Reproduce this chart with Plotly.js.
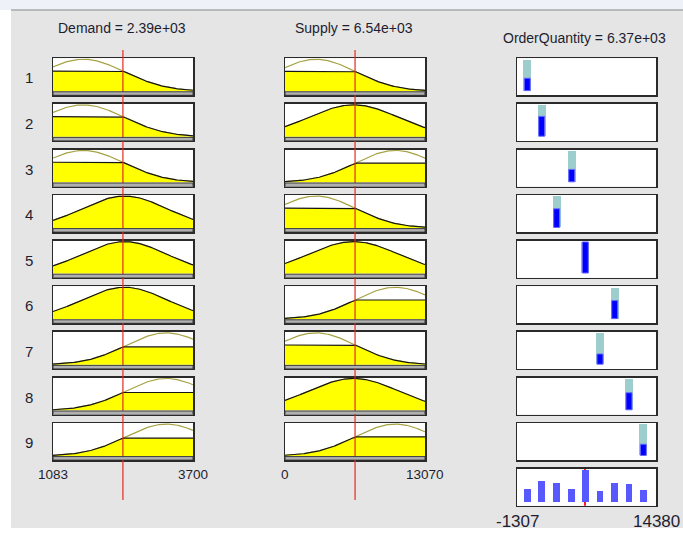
<!DOCTYPE html>
<html><head><meta charset="utf-8">
<script src="https://cdn.plot.ly/plotly-3.0.1.min.js"></script>
<style>html,body{margin:0;padding:0;background:#fff}#chart{width:683px;height:534px}</style>
</head><body><div id="chart"></div>
<script>
// ---------------- data ----------------
const inputNames = ['Demand', 'Supply'];
const inputRanges = [[1083, 3700], [0, 13070]];
const inputValues = [2390, 6540];
const demandCenters = [1650, 2420, 3200];
const demandSigmas = [770, 790, 752];
const supplyCenters = [2900, 6400, 10300];
const supplySigmas = [3723, 4200, 3719];
const ruleLabels = ['1', '2', '3', '4', '5', '6', '7', '8', '9'];
const ruleDemandMf = [0, 0, 0, 1, 1, 1, 2, 2, 2];
const ruleSupplyMf = [0, 1, 2, 0, 1, 2, 0, 1, 2];
const outputName = 'OrderQuantity';
const outputRange = [-1307, 14380];
const outputValue = 6370;
const ruleOutputs = [-150, 1480, 4870, 3170, 6400, 9720, 8060, 11330, 12950];
const ruleStrengths = [0.40, 0.64, 0.40, 0.60, 1.0, 0.58, 0.33, 0.55, 0.36];

// ---------------- layout helpers ----------------
const W = 683, H = 534;
const colX = [[53, 193], [285, 425], [517, 656]];
const rowTop0 = 58.3, rowPitch = 45.6, panelH = 37;
const mfCenters = [demandCenters, supplyCenters];
const mfSigmas = [demandSigmas, supplySigmas];
const ruleMf = [ruleDemandMf, ruleSupplyMf];
const regular = '"Liberation Sans", Arial, sans-serif';
const txtColor = '#1e1e30';

function sfx(k) { return k === 1 ? '' : String(k); }
function gauss(x, c, s) { return Math.exp(-((x - c) ** 2) / (2 * s * s)); }
function fmt(v) { return v.toExponential(2).replace(/e([+-])(\d)$/, 'e$10$2'); }

const layout = {
  width: W, height: H, margin: {l: 0, r: 0, t: 0, b: 0},
  paper_bgcolor: '#ffffff', plot_bgcolor: 'rgba(0,0,0,0)',
  showlegend: false, barmode: 'overlay', bargap: 0,
  shapes: [], annotations: []
};
const traces = [];

// page background
layout.shapes.push({type: 'rect', xref: 'paper', yref: 'paper', x0: 11 / W, x1: 1, y0: 1 - 528 / H, y1: 1 - 10 / H,
  fillcolor: '#e5e5e5', line: {width: 0}, layer: 'below'});
layout.shapes.push({type: 'rect', xref: 'paper', yref: 'paper', x0: 0, x1: 1, y0: 1 - 10 / H, y1: 1,
  fillcolor: '#eef1f8', line: {width: 0}, layer: 'below'});
layout.shapes.push({type: 'line', xref: 'paper', yref: 'paper', x0: 11 / W, x1: 1, y0: 1 - 10 / H, y1: 1 - 10 / H,
  line: {color: '#a8a8a8', width: 1.5}, layer: 'below'});

function addAxes(k, xd, yd, xr, yr, frame) {
  const common = {showgrid: false, zeroline: false, showticklabels: false, ticks: '', fixedrange: true,
    showline: frame, mirror: frame, linecolor: '#2a2a2a', linewidth: 1.5};
  layout['xaxis' + sfx(k)] = Object.assign({domain: xd, range: xr, anchor: 'y' + sfx(k)}, common);
  layout['yaxis' + sfx(k)] = Object.assign({domain: yd, range: yr, anchor: 'x' + sfx(k)}, common);
  if (frame) {
    layout.shapes.push({type: 'rect', xref: 'x' + sfx(k) + ' domain', yref: 'y' + sfx(k) + ' domain',
      x0: 0, x1: 1, y0: 0, y1: 1, fillcolor: '#ffffff', line: {width: 0}, layer: 'below'});
  }
}

const N = 161;
for (let r = 0; r < 9; r++) {
  const top = rowTop0 + r * rowPitch, bot = top + panelH;
  const yd = [1 - bot / H, 1 - top / H];
  // input panels
  for (let c = 0; c < 2; c++) {
    const k = r * 3 + c + 1;
    const [lo, hi] = inputRanges[c];
    addAxes(k, [colX[c][0] / W, colX[c][1] / W], yd, [lo, hi], [-0.13, 1.03], true);
    const m = ruleMf[c][r];
    const cc = mfCenters[c][m], ss = mfSigmas[c][m];
    const mu = gauss(inputValues[c], cc, ss);
    const xs = [], mf = [], clip = [];
    for (let i = 0; i < N; i++) {
      const x = lo + (hi - lo) * i / (N - 1);
      const v = gauss(x, cc, ss);
      xs.push(x); mf.push(v); clip.push(Math.min(v, mu));
    }
    layout.shapes.push({type: 'rect', xref: 'x' + sfx(k) + ' domain', yref: 'y' + sfx(k),
      x0: 0, x1: 1, y0: -0.13, y1: -0.02, fillcolor: '#b0b0b0', line: {color: '#3a3a3a', width: 1}, layer: 'above'});
    traces.push({type: 'scatter', mode: 'lines', x: xs, y: mf, line: {color: '#a6a243', width: 1.2},
      xaxis: 'x' + sfx(k), yaxis: 'y' + sfx(k), hoverinfo: 'skip'});
    traces.push({type: 'scatter', mode: 'lines', x: xs, y: clip, fill: 'tozeroy', fillcolor: '#ffff00',
      line: {color: '#151515', width: 1.2}, xaxis: 'x' + sfx(k), yaxis: 'y' + sfx(k), hoverinfo: 'skip'});
  }
  // output panel
  const k = r * 3 + 3;
  addAxes(k, [colX[2][0] / W, colX[2][1] / W], yd, outputRange, [-0.15, 1.04], true);
  traces.push({type: 'bar', x: [ruleOutputs[r]], y: [1], width: [900], marker: {color: '#9dcdcd', line: {width: 0}},
    xaxis: 'x' + sfx(k), yaxis: 'y' + sfx(k), hoverinfo: 'skip'});
  traces.push({type: 'bar', x: [ruleOutputs[r]], y: [ruleStrengths[r]], width: [680],
    marker: {color: '#0000ff', line: {color: '#6a6aff', width: 1}},
    xaxis: 'x' + sfx(k), yaxis: 'y' + sfx(k), hoverinfo: 'skip'});
  // row label
  layout.annotations.push({xref: 'paper', yref: 'paper', x: 29 / W, y: 1 - (top + panelH / 2 + 1) / H,
    text: ruleLabels[r], showarrow: false, xanchor: 'center', yanchor: 'middle',
    font: {family: regular, size: 15, color: txtColor}});
}

// aggregate output panel
{
  const k = 28;
  const top = rowTop0 + 9 * rowPitch, bot = top + panelH;
  addAxes(k, [colX[2][0] / W, colX[2][1] / W], [1 - bot / H, 1 - top / H], outputRange, [-0.12, 1.03], true);
  traces.push({type: 'bar', x: [outputValue], base: [-0.12], y: [1.15], width: [230], marker: {color: '#ff1a1a', line: {width: 0}},
    xaxis: 'x28', yaxis: 'y28', hoverinfo: 'skip'});
  traces.push({type: 'bar', x: ruleOutputs, y: ruleStrengths, width: ruleOutputs.map(() => 760),
    marker: {color: '#5858ff', line: {width: 0}}, xaxis: 'x28', yaxis: 'y28', hoverinfo: 'skip'});
  layout.annotations.push({xref: 'x28', yref: 'paper', x: outputRange[0], y: 1 - 521 / H, text: String(outputRange[0]),
    showarrow: false, xanchor: 'center', yanchor: 'middle', font: {family: regular, size: 17, color: txtColor}});
  layout.annotations.push({xref: 'x28', yref: 'paper', x: outputRange[1], y: 1 - 521 / H, text: String(outputRange[1]),
    showarrow: false, xanchor: 'center', yanchor: 'middle', font: {family: regular, size: 17, color: txtColor}});
}

// red input lines (overlay axes spanning each input column)
for (let c = 0; c < 2; c++) {
  const k = 29 + c;
  addAxes(k, [colX[c][0] / W, colX[c][1] / W], [1 - 500 / H, 1 - 50 / H], inputRanges[c], [0, 1], false);
  traces.push({type: 'scatter', mode: 'lines', x: [inputValues[c], inputValues[c]], y: [0, 1],
    line: {color: '#e42a22', width: 1.2}, xaxis: 'x' + k, yaxis: 'y' + k, hoverinfo: 'skip'});
  // range labels under last row
  const kk = 25 + c;
  inputRanges[c].forEach(v => layout.annotations.push({xref: 'x' + kk, yref: 'paper', x: v, y: 1 - 474 / H,
    text: String(v), showarrow: false, xanchor: 'center', yanchor: 'middle', font: {family: regular, size: 13.5, color: txtColor}}));
}

// titles
const titleX = [121.5, 354, 584.5], titleY = [28, 28, 38];
const titles = [inputNames[0] + ' = ' + fmt(inputValues[0]), inputNames[1] + ' = ' + fmt(inputValues[1]), outputName + ' = ' + fmt(outputValue)];
titles.forEach((t, i) => layout.annotations.push({xref: 'paper', yref: 'paper', x: titleX[i] / W, y: 1 - titleY[i] / H,
  text: t, showarrow: false, xanchor: 'center', yanchor: 'middle', font: {family: regular, size: 14, color: txtColor}}));

Plotly.newPlot('chart', traces, layout, {staticPlot: true, displayModeBar: false});
</script>
</body></html>
